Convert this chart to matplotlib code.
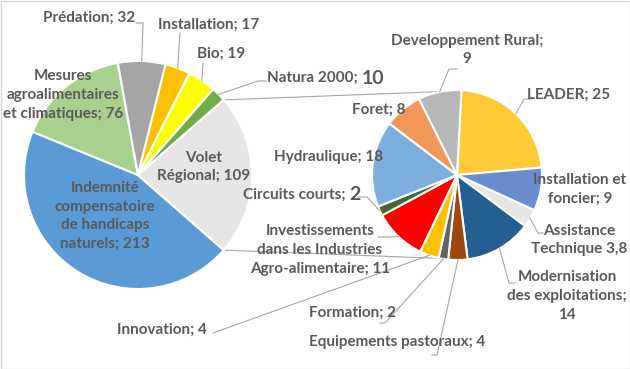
import numpy as np
import matplotlib
matplotlib.use("Agg")
import matplotlib.pyplot as plt
import matplotlib.patches as mpatches

# Main pie data (clockwise, Excel order; last slice = "other" -> secondary pie)
main_names = ["Indemnité\ncompensatoire\nde handicaps\nnaturels", "Mesures\nagroalimentaires\net climatiques",
              "Prédation", "Installation", "Bio", "Natura 2000", "Volet\nRégional"]
main_values = [213, 76, 32, 17, 19, 10, 109]
main_colors = ["#5B9BD5", "#A9D18E", "#A5A5A5", "#FFC000", "#FFFF00", "#70AD47", "#E7E6E6"]

# Secondary pie data (details of Volet Régional)
sec_names = ["LEADER", "Installation et\nfoncier", "Assistance\nTechnique", "Modernisation\ndes exploitations",
             "Equipements pastoraux", "Formation", "Innovation",
             "Investissements\ndans les Industries\nAgro-alimentaire", "Circuits courts", "Hydraulique",
             "Foret", "Developpement Rural"]
sec_values = [25, 9, 3.8, 14, 4, 2, 4, 11, 2, 18, 8, 9]
sec_seps = ["; ", "; ", " ", ";\n", "; ", "; ", "; ", "; ", "; ", "; ", "; ", ";\n"]
sec_colors = ["#FFCA36", "#698ED0", "#E7E6E6", "#255E91", "#9E480E", "#636363", "#FFC000",
              "#FF0000", "#43682B", "#7CAFDD", "#F1975A", "#B7B7B7"]

W, H = 630, 369
TXT = "#595959"
plt.rcParams['font.family'] = ['Lato', 'DejaVu Sans']

fig = plt.figure(figsize=(6.3, 3.69), dpi=100)
ax = fig.add_axes([0, 0, 1, 1])
ax.set_xlim(0, W)
ax.set_ylim(0, H)
ax.set_aspect('equal')
ax.axis('off')
fig.patches.append(mpatches.Rectangle((0.5, 0.5), W - 1, H - 1, transform=None, fill=False,
                                      edgecolor="#D9D9D9", linewidth=1))


def fmt(v):
    return str(v).replace('.', ',') if v != int(v) else str(int(v))


def py(y):  # pixel row -> data y
    return H - y


c1, r1 = (138, py(175)), 114
c2, r2 = (457, py(175)), 85

other_deg = main_values[-1] / sum(main_values) * 360
start1 = -other_deg / 2
w1, _ = ax.pie(main_values, colors=main_colors, center=c1, radius=r1, startangle=start1,
               counterclock=False, wedgeprops=dict(edgecolor="white", linewidth=1.5))
start2 = 87
w2, _ = ax.pie(sec_values, colors=sec_colors, center=c2, radius=r2, startangle=start2,
               counterclock=False, wedgeprops=dict(edgecolor="white", linewidth=1.5))
ax.set_xlim(0, W)
ax.set_ylim(0, H)


def mid_angles(values, start):
    ang = start - np.cumsum([0] + list(values)) / sum(values) * 360
    return (ang[:-1] + ang[1:]) / 2


def edge(c, r, deg):
    a = np.deg2rad(deg)
    return c[0] + r * np.cos(a), c[1] + r * np.sin(a)


# connector lines between the two pies
for s in (1, -1):
    p1 = edge(c1, r1, s * other_deg / 2)
    p2 = edge(c2, r2, s * 101)
    ax.plot([p1[0], p2[0]], [p1[1], p2[1]], color="#A6A6A6", lw=0.8, zorder=0)

m1 = mid_angles(main_values, start1)
m2 = mid_angles(sec_values, start2)

fs, big = 11, 14
bold = dict(color=TXT, fontweight='bold', fontsize=fs, linespacing=1.42)

# main pie labels: (x, y pixel center, leader: label end, elbow) or None
main_pos = [
    (105, 216, None),
    (63, 95, None),
    (89, 18, ((136, 23), (143, 23))),
    (209, 25, ((180, 33), (180, 33))),
    (221, 54, ((203, 63), (203, 63))),
    (None, 78, ((266, 81), (258, 81))),
    (204, 167, None),
]
for i, (name, v, (x, y, ld)) in enumerate(zip(main_names, main_values, main_pos)):
    if name == "Natura 2000":
        t = ax.text(267, py(y), f"{name}; ", ha='left', va='center', **bold)
        fig.canvas.draw()
        bb = t.get_window_extent().transformed(ax.transData.inverted())
        ax.text(bb.x1, py(y), fmt(v), ha='left', va='center', color=TXT, fontweight='bold',
                fontsize=big)
    else:
        ax.text(x, py(y), f"{name}; {fmt(v)}", ha='center', va='center', **bold)
    if ld:
        a = edge(c1, r1, m1[i])
        ax.plot([ld[0][0], ld[1][0], a[0]], [py(ld[0][1]), py(ld[1][1]), a[1]],
                color="#A6A6A6", lw=0.8)

sec_pos = [
    (569, 95, ((532, 99), (524, 99))),
    (580, 189, None),
    (579, 240, ((543, 233), (538, 233))),
    (567, 296, ((515, 283), (509, 283))),
    (397, 342, ((432, 355), (437, 355))),
    (353, 313, ((380, 323), (385, 323))),
    (162, 330, ((213, 333), (213, 333))),
    (320, 250, ((378, 237), (393, 237))),
    (None, 195, ((358, 197), (367, 197))),
    (329, 157, None),
    (379, 110, None),
    (467, 50, ((457, 69), (449, 69))),
]
for i, (name, v, sep, (x, y, ld)) in enumerate(zip(sec_names, sec_values, sec_seps, sec_pos)):
    if name == "Circuits courts":
        t = ax.text(243, py(y), f"{name}; ", ha='left', va='center', **bold)
        fig.canvas.draw()
        bb = t.get_window_extent().transformed(ax.transData.inverted())
        ax.text(bb.x1, py(y), fmt(v), ha='left', va='center', color=TXT, fontweight='bold',
                fontsize=big)
    else:
        ax.text(x, py(y), f"{name}{sep}{fmt(v)}", ha='center', va='center', **bold)
    if ld:
        a = edge(c2, r2, m2[i])
        ax.plot([ld[0][0], ld[1][0], a[0]], [py(ld[0][1]), py(ld[1][1]), a[1]],
                color="#A6A6A6", lw=0.8)

fig.savefig("out.png", dpi=100)
